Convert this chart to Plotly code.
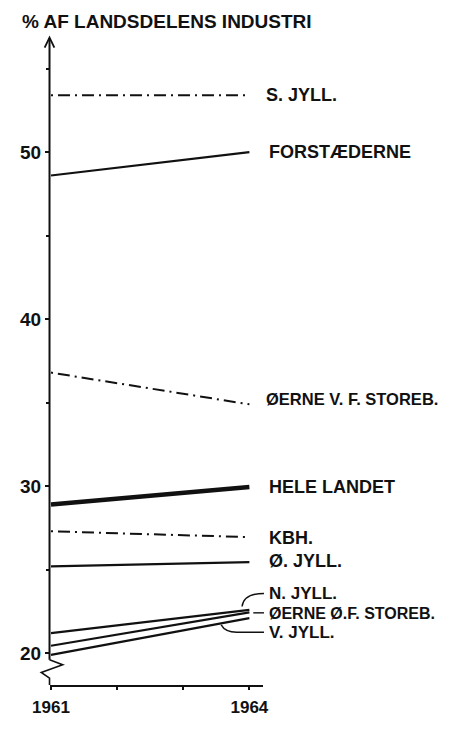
import plotly.graph_objects as go

# ---- data ----
years = [1961, 1964]
regions = ["S. JYLL.", "FORSTÆDERNE", "ØERNE V. F. STOREB.", "HELE LANDET", "KBH.",
           "Ø. JYLL.", "N. JYLL.", "ØERNE Ø.F. STOREB.", "V. JYLL."]
share_1961 = [53.4, 48.6, 36.8, 28.9, 27.3, 25.2, 21.2, 20.45, 19.9]
share_1964 = [53.4, 50.0, 34.9, 29.95, 26.95, 25.45, 22.6, 22.45, 22.1]
line_kind = ["dashdot", "solid", "dashdot", "bold", "dashdot", "solid", "solid", "solid", "solid"]
y_tick_vals = [20, 30, 40, 50]
y_minor_vals = [25, 35, 45, 55]
x_tick_vals = [1961, 1962, 1963, 1964]
x_tick_text = ["1961", "", "", "1964"]

# ---- layout geometry (page body has an 8px margin) ----
OFF = 8
W, H = 460 - 2 * OFF, 737 - 2 * OFF
S_LEFT, S_RIGHT, S_TOP, S_BOTTOM = 44, 263, 38, 706   # plot area in window pixels
ML, MR = S_LEFT - OFF, W - (S_RIGHT - OFF)
MT, MB = S_TOP - OFF, H - (S_BOTTOM - OFF)
PW, PH = S_RIGHT - S_LEFT, S_BOTTOM - S_TOP
XR = [1960.985, 1964.206]
YR = [18.10, 56.83]

def px(xp):  # window pixel -> paper x
    return (xp - S_LEFT) / PW

def py(yp):  # window pixel -> paper y
    return (S_BOTTOM - yp) / PH

FONT = "Liberation Sans"
BLACK = "#111111"

fig = go.Figure()
style = {
    "dashdot": dict(width=2, dash="2px,5px,12px,5px"),
    "solid": dict(width=2.2, dash="solid"),
    "bold": dict(width=4.5, dash="solid"),
}
for name, a, b, k in zip(regions, share_1961, share_1964, line_kind):
    fig.add_trace(go.Scatter(x=years, y=[a, b], mode="lines", name=name,
                             line=dict(color=BLACK, **style[k]), showlegend=False,
                             hoverinfo="skip"))

# labels at right end
label_y = [53.4, 50.0, 35.25, 29.95, 26.9, 25.5, 23.57, 22.41, 21.25]
label_shift = [15, 18, 15, 18, 18, 18, 18, 18, 18]
label_size = [18, 18, 16.5, 18, 18, 18, 17, 16, 17]
for name, yv, sh, fs in zip(regions, label_y, label_shift, label_size):
    fig.add_annotation(x=1964, y=yv, xref="x", yref="y", text=name, showarrow=False,
                       xanchor="left", yanchor="middle", xshift=sh,
                       font=dict(family=FONT, size=fs, color=BLACK, weight=700))

# title
fig.add_annotation(x=px(13), y=py(21), xref="paper", yref="paper",
                   text="% AF LANDSDELENS INDUSTRI", showarrow=False,
                   xanchor="left", yanchor="middle",
                   font=dict(family=FONT, size=19, color=BLACK, weight=700))

shapes = []
ax_x = px(43.5)
# y-axis line with arrow and break
shapes.append(dict(type="line", xref="paper", yref="paper", x0=ax_x, x1=ax_x,
                   y0=py(680), y1=py(38), line=dict(color=BLACK, width=2)))
shapes.append(dict(type="path", xref="paper", yref="paper",
                   path=f"M {px(38.5)},{py(48)} L {ax_x},{py(37.5)} L {px(48.5)},{py(48)}",
                   line=dict(color=BLACK, width=1.8)))
shapes.append(dict(type="path", xref="paper", yref="paper",
                   path=(f"M {ax_x},{py(680)} L {px(57)},{py(685)} L {px(35)},{py(693)} "
                         f"L {ax_x},{py(699)} L {ax_x},{py(706)}"),
                   line=dict(color=BLACK, width=1.6)))
# leader lines for the three bottom labels
shapes.append(dict(type="path", xref="paper", yref="paper",
                   path=f"M {px(241.5)},{py(625)} Q {px(243)},{py(611.5)} {px(264)},{py(611.5)}",
                   line=dict(color=BLACK, width=1.4)))
shapes.append(dict(type="line", xref="paper", yref="paper",
                   x0=px(253), x1=px(264), y0=py(631.5), y1=py(631.5),
                   line=dict(color=BLACK, width=1.4)))
shapes.append(dict(type="path", xref="paper", yref="paper",
                   path=f"M {px(220)},{py(644)} Q {px(224)},{py(651.5)} {px(236)},{py(651.5)} L {px(264)},{py(651.5)}",
                   line=dict(color=BLACK, width=1.4)))
fig.update_layout(shapes=shapes)

fig.update_layout(
    width=W, height=H,
    margin=dict(l=ML, r=MR, t=MT, b=MB, pad=0),
    paper_bgcolor="white", plot_bgcolor="white",
    xaxis=dict(range=XR, showgrid=False, zeroline=False, showline=True,
               linecolor=BLACK, linewidth=2, tickmode="array", tickvals=x_tick_vals,
               ticktext=x_tick_text, ticks="outside", ticklen=3, tickwidth=1.5,
               tickcolor=BLACK, ticklabelstandoff=3,
               tickfont=dict(family=FONT, size=17, color=BLACK, weight=700),
               fixedrange=True),
    yaxis=dict(range=YR, showgrid=False, zeroline=False, showline=False,
               tickmode="array", tickvals=y_tick_vals, ticks="outside", ticklen=4,
               tickwidth=1.5, tickcolor=BLACK,
               minor=dict(tickvals=y_minor_vals, ticks="outside", ticklen=3,
                          tickwidth=1.5, tickcolor=BLACK),
               tickfont=dict(family=FONT, size=19, color=BLACK, weight=700),
               fixedrange=True),
)

fig.write_html("out.html")
